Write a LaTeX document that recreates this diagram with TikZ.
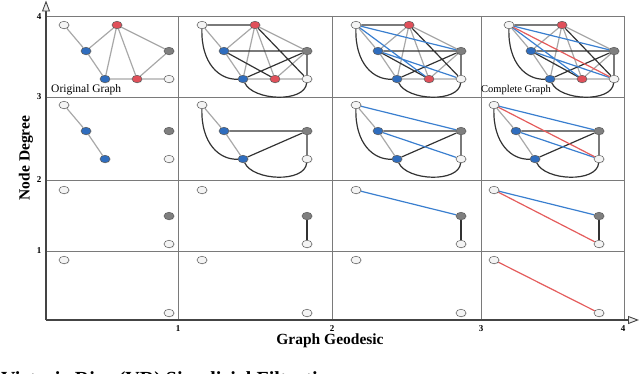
\documentclass[tikz,border=0pt]{standalone}
\usepackage{fontspec}
\setmainfont{Liberation Serif}
\usetikzlibrary{arrows.meta,shapes.geometric,shadows}
\pgfdeclarelayer{gridlayer}
\pgfdeclarelayer{edgelayer}
\pgfsetlayers{gridlayer,edgelayer,main}

\definecolor{cWhite}{HTML}{F4F4F4}
\definecolor{cBlue}{HTML}{2F6DBE}
\definecolor{cRed}{HTML}{E0505A}
\definecolor{cGrey}{HTML}{7F7F7F}
\definecolor{cEgrey}{HTML}{A8A8A8}
\definecolor{cEblack}{HTML}{333333}
\definecolor{cEblue}{HTML}{3A7FCF}
\definecolor{cEred}{HTML}{E45C5C}
\definecolor{cGrid}{HTML}{7A7A7A}
\definecolor{cAxis}{HTML}{444444}

\tikzset{
  vtx/.style={ellipse, draw=black!65, line width=0.5pt, minimum width=10pt,
    minimum height=7.5pt, inner sep=0pt,
    drop shadow={shadow xshift=0.6pt, shadow yshift=-0.6pt, opacity=0.3}},
  vw/.style={vtx, fill=cWhite},
  vb/.style={vtx, fill=cBlue},
  vr/.style={vtx, fill=cRed},
  vg/.style={vtx, fill=cGrey},
  egr/.style={draw=cEgrey, line width=1.2pt},
  ebk/.style={draw=cEblack, line width=1.2pt},
  ebl/.style={draw=cEblue, line width=1.2pt},
  erd/.style={draw=cEred, line width=1.2pt},
  gridline/.style={draw=cGrid, line width=0.6pt},
  axisline/.style={draw=cAxis, line width=1.8pt,
    -{Triangle[length=11pt,width=8pt,fill=white!92!black,line width=0.9pt]}},
  ticklbl/.style={font=\bfseries\fontsize{9}{9}\selectfont, inner sep=0pt},
  axlabel/.style={font=\bfseries\fontsize{15.5}{15.5}\selectfont, inner sep=0pt},
  capt/.style={inner sep=0pt, anchor=base west},
}

% vertex sets (prefix)
\newcommand{\VRowA}[1]{%
  \node[vw] (#1w1) at (64,25) {};
  \node[vr] (#1r1) at (117,25) {};
  \node[vb] (#1b1) at (86,51) {};
  \node[vg] (#1g)  at (169,51) {};
  \node[vb] (#1b2) at (105,79) {};
  \node[vr] (#1r2) at (137,79) {};
  \node[vw] (#1w2) at (169,79) {};}
\newcommand{\VRowB}[1]{%
  \node[vw] (#1w1) at (64,25) {};
  \node[vb] (#1b1) at (86,51) {};
  \node[vg] (#1g)  at (169,51) {};
  \node[vb] (#1b2) at (105,79) {};
  \node[vw] (#1w2) at (169,79) {};}
\newcommand{\VRowC}[1]{%
  \node[vw] (#1w1) at (64,25) {};
  \node[vg] (#1g)  at (169,51) {};
  \node[vw] (#1w2) at (169,79) {};}
\newcommand{\VRowD}[1]{%
  \node[vw] (#1w1) at (64,25) {};
  \node[vw] (#1w2) at (169,78) {};}

% edge sets
\newcommand{\EGreyA}[1]{\draw[egr] (#1w1)--(#1b1) (#1b1)--(#1r1) (#1b1)--(#1b2)
  (#1b2)--(#1r1) (#1r1)--(#1r2) (#1r1)--(#1g) (#1b2)--(#1r2) (#1r2)--(#1w2) (#1r2)--(#1g);}
\newcommand{\ECurves}[1]{%
  \draw[ebk] (#1w1) .. controls +(-1,38) and +(-24,1) .. (#1b2);
  \draw[ebk] (#1b2) .. controls +(10,22) and +(-2,24) .. (#1w2);}
\newcommand{\EBlackA}[1]{\draw[ebk] (#1w1)--(#1r1) (#1b1)--(#1r2) (#1b1)--(#1g)
  (#1r1)--(#1w2) (#1b2)--(#1g) (#1g)--(#1w2); \ECurves{#1}}
\newcommand{\EBlueA}[1]{\draw[ebl] (#1w1)--(#1r2) (#1w1)--(#1g) (#1b1)--(#1w2);}
\newcommand{\EGreyB}[1]{\draw[egr] (#1w1)--(#1b1) (#1b1)--(#1b2);}
\newcommand{\EBlackB}[1]{\draw[ebk] (#1b1)--(#1g) (#1b2)--(#1g) (#1g)--(#1w2); \ECurves{#1}}
\newcommand{\EBlueB}[1]{\draw[ebl] (#1w1)--(#1g) (#1b1)--(#1w2);}
\newcommand{\ERed}[1]{\draw[erd] (#1w1)--(#1w2);}

\begin{document}
\begin{tikzpicture}[x=1pt,y=-1pt]
\useasboundingbox (0,0) rectangle (640,374);

% grid
\begin{pgfonlayer}{gridlayer}
\foreach \xx in {178,332,481,624} \draw[gridline] (\xx,16) -- (\xx,320);
\foreach \yy in {16,97,180,251} \draw[gridline] (46,\yy) -- (624,\yy);
\end{pgfonlayer}

% axes
\coordinate (O) at (46,320);
\coordinate (ytop) at (46,0.5);
\coordinate (xend) at (639,320);
\draw[axisline] (O) -- (ytop);
\draw[axisline] (O) -- (xend);

% tick labels
\node[ticklbl] (y4) at (39,17) {4};
\node[ticklbl] (y3) at (39,97) {3};
\node[ticklbl] (y2) at (39,180) {2};
\node[ticklbl] (y1) at (39,251) {1};
\node[ticklbl] (x1) at (178,329) {1};
\node[ticklbl] (x2) at (332,329) {2};
\node[ticklbl] (x3) at (481,329) {3};
\node[ticklbl] (x4) at (623,329) {4};
\node[axlabel] (xl) at (330,341) {Graph Geodesic};
\node[axlabel, rotate=90] (yl) at (26,158) {Node Degree};
\node[font=\bfseries\fontsize{20}{20}\selectfont, inner sep=0pt, anchor=base west] (ttl) at (1,385) {Vietoris-Rips (VR) Simplicial Filtration};

% ---- row 1 ----
\begin{scope}[shift={(0,0)}]   \VRowA{aa} \end{scope}
\begin{scope}[shift={(138,0)}] \VRowA{ab} \end{scope}
\begin{scope}[shift={(292,0)}] \VRowA{ac} \end{scope}
\begin{scope}[shift={(445,0)}] \VRowA{ad} \end{scope}
% ---- row 2 ----
\begin{scope}[shift={(0,80)}]   \VRowB{ba} \end{scope}
\begin{scope}[shift={(138,80)}] \VRowB{bb} \end{scope}
\begin{scope}[shift={(292,80)}] \VRowB{bc} \end{scope}
\begin{scope}[shift={(430,80)}] \VRowB{bd} \end{scope}
% ---- row 3 ----
\begin{scope}[shift={(0,165)}]   \VRowC{ca} \end{scope}
\begin{scope}[shift={(138,165)}] \VRowC{cb} \end{scope}
\begin{scope}[shift={(292,165)}] \VRowC{cc} \end{scope}
\begin{scope}[shift={(430,165)}] \VRowC{cd} \end{scope}
% ---- row 4 ----
\begin{scope}[shift={(0,235)}]   \VRowD{da} \end{scope}
\begin{scope}[shift={(138,235)}] \VRowD{db} \end{scope}
\begin{scope}[shift={(292,235)}] \VRowD{dc} \end{scope}
\begin{scope}[shift={(430,235)}] \VRowD{dd} \end{scope}

\node[capt, font=\fontsize{11.5}{11.5}\selectfont] (orig) at (51,93) {Original Graph};
\node[capt, font=\fontsize{10.5}{10.5}\selectfont] (comp) at (481,93) {Complete Graph};

\begin{pgfonlayer}{edgelayer}
% row 1
\EGreyA{aa}
\EGreyA{ab} \EBlackA{ab}
\EGreyA{ac} \EBlackA{ac} \EBlueA{ac}
\EGreyA{ad} \EBlackA{ad} \EBlueA{ad} \ERed{ad}
% row 2
\EGreyB{ba}
\EGreyB{bb} \EBlackB{bb}
\EGreyB{bc} \EBlackB{bc} \EBlueB{bc}
\EGreyB{bd} \EBlackB{bd} \EBlueB{bd} \ERed{bd}
% row 3
\draw[ebk] (cbg)--(cbw2);
\draw[ebk] (ccg)--(ccw2); \draw[ebl] (ccw1)--(ccg);
\draw[ebk] (cdg)--(cdw2); \draw[ebl] (cdw1)--(cdg); \ERed{cd}
% row 4
\ERed{dd}
\end{pgfonlayer}
\end{tikzpicture}
\end{document}
